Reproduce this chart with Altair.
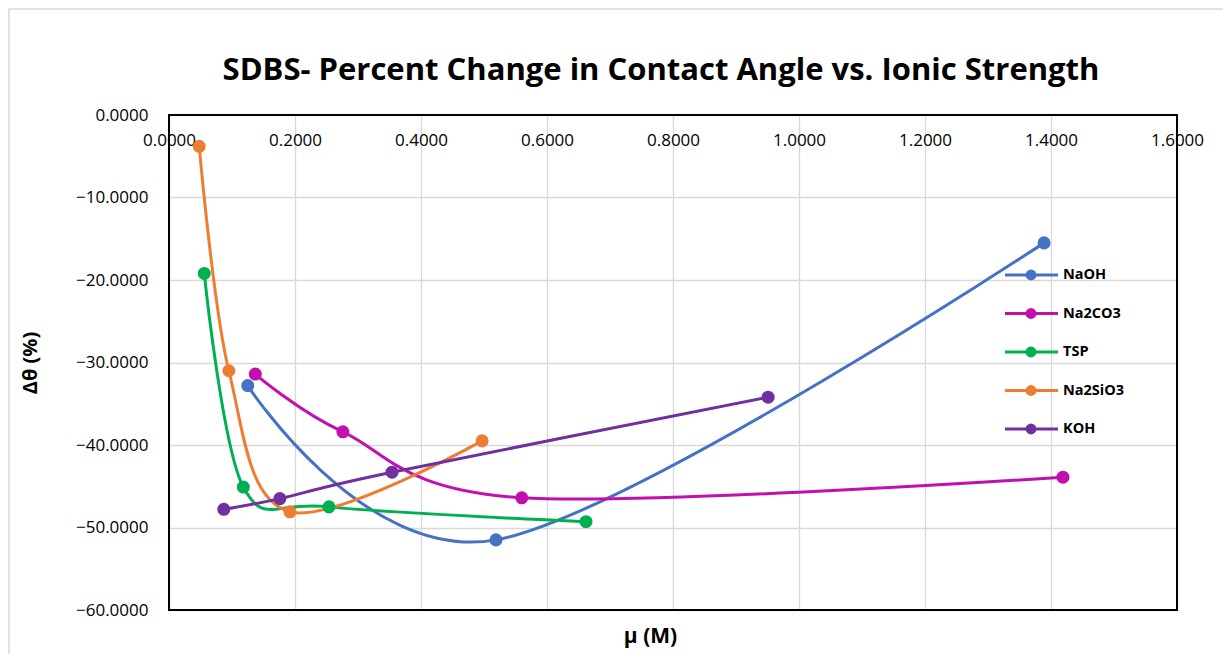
import altair as alt
import pandas as pd

series = ["NaOH", "Na2CO3", "TSP", "Na2SiO3", "KOH"]
colors = ["#4472C4", "#C20FAE", "#00B050", "#ED7D31", "#7030A0"]

naoh_x = [0.125, 0.519, 1.389]
naoh_y = [-32.8, -51.5, -15.5]
na2co3_x = [0.137, 0.276, 0.560, 1.419]
na2co3_y = [-31.4, -38.4, -46.4, -43.9]
tsp_x = [0.056, 0.118, 0.254, 0.662]
tsp_y = [-19.2, -45.1, -47.5, -49.3]
na2sio3_x = [0.048, 0.095, 0.192, 0.497]
na2sio3_y = [-3.8, -31.0, -48.1, -39.5]
koh_x = [0.087, 0.176, 0.354, 0.951]
koh_y = [-47.8, -46.5, -43.3, -34.2]

x_ticks = [0.0, 0.2, 0.4, 0.6, 0.8, 1.0, 1.2, 1.4, 1.6]
y_ticks = [0, -10, -20, -30, -40, -50, -60]

rows = []
for i, (name, xs, ys) in enumerate(zip(
        series,
        [naoh_x, na2co3_x, tsp_x, na2sio3_x, koh_x],
        [naoh_y, na2co3_y, tsp_y, na2sio3_y, koh_y])):
    for j, (xv, yv) in enumerate(zip(xs, ys)):
        rows.append({"series": name, "mu": xv, "dtheta": yv, "order": i, "idx": j})
df = pd.DataFrame(rows)

legend_df = pd.DataFrame({"series": series})
frame_df = pd.DataFrame({"x": [0.0], "x2": [1.6], "y": [-60.0], "y2": [0.0]})

FONT = "Open Sans"
W, H = 1008, 495

xscale = alt.Scale(domain=[0, 1.6], nice=False, zero=False)
yscale = alt.Scale(domain=[-60, 0], nice=False, zero=False)
color = alt.Color("series:N", scale=alt.Scale(domain=series, range=colors), legend=None)

x_axis = alt.Axis(
    orient="bottom", offset=-H, values=x_ticks, format=".4f", title="μ (M)",
    titleX=481, titleY=H + 26, titleBaseline="middle", titleAlign="center",
    titleFont=FONT, titleFontSize=21, titleFontWeight="bold", titleColor="#000000",
    labelFont=FONT, labelFontSize=17, labelColor="#000000", labelPadding=17,
    labelFlush=False, labelOverlap=False, labelBound=False,
    ticks=False, domain=False, grid=True, gridColor="#d9d9d9", gridWidth=1.3,
)
y_axis = alt.Axis(
    values=y_ticks, format=".4f", title="Δθ (%)",
    titleX=-139, titleY=H / 2, titleAngle=-90, titleBaseline="middle", titleAlign="center",
    titleFont=FONT, titleFontSize=20, titleFontWeight="bold", titleColor="#000000",
    labelFont=FONT, labelFontSize=17, labelColor="#000000", labelPadding=21,
    labelFlush=False, labelOverlap=False, labelBound=False,
    ticks=False, domain=False, grid=True, gridColor="#d9d9d9", gridWidth=1.3,
)

base = alt.Chart(df)

outer = alt.Chart(frame_df).mark_rect(fillOpacity=0, stroke="#d9d9d9", strokeWidth=1.5).encode(
    x=alt.value(-160), x2=alt.value(W + 80), y=alt.value(-106), y2=alt.value(H + 80)
)
lines = base.mark_line(interpolate="cardinal", strokeWidth=3).encode(
    x=alt.X("mu:Q", scale=xscale, axis=x_axis),
    y=alt.Y("dtheta:Q", scale=yscale, axis=y_axis),
    color=color,
    detail="series:N",
    order="idx:Q",
)
points = base.mark_circle(size=170, opacity=1).encode(
    x=alt.X("mu:Q", scale=xscale),
    y=alt.Y("dtheta:Q", scale=yscale),
    color=color,
)
frame = alt.Chart(frame_df).mark_rect(fillOpacity=0, stroke="#000000", strokeWidth=2).encode(
    x=alt.X("x:Q", scale=xscale),
    x2="x2:Q",
    y=alt.Y("y:Q", scale=yscale),
    y2="y2:Q",
)

leg_off = alt.YOffset("series:N", scale=alt.Scale(type="point", domain=series, range=[0, 154], padding=0))
leg_line = alt.Chart(legend_df).mark_rule(strokeWidth=3).encode(
    x=alt.value(836), x2=alt.value(889), y=alt.value(160), yOffset=leg_off, color=color
)
leg_pt = alt.Chart(legend_df).mark_circle(size=120, opacity=1).encode(
    x=alt.value(862), y=alt.value(160), yOffset=leg_off, color=color
)
leg_txt = alt.Chart(legend_df).mark_text(
    align="left", baseline="middle", font=FONT, fontSize=14.5, fontWeight="bold", color="#000000"
).encode(x=alt.value(894), y=alt.value(160), yOffset=leg_off, text="series:N")

chart = alt.layer(outer, lines, points, frame, leg_line, leg_pt, leg_txt).properties(
    width=W, height=H,
    autosize=alt.AutoSizeParams(type="none"),
    padding={"left": 161, "top": 107, "right": 46, "bottom": 44},
    title=alt.TitleParams(
        "SDBS- Percent Change in Contact Angle vs. Ionic Strength",
        font=FONT, fontSize=31, fontWeight="bold", color="#000000",
        anchor="middle", dx=-12, dy=136, offset=33, baseline="alphabetic",
    ),
).configure_view(stroke=None)

chart.save("out.html", embed_options={"renderer": "svg", "actions": False})
